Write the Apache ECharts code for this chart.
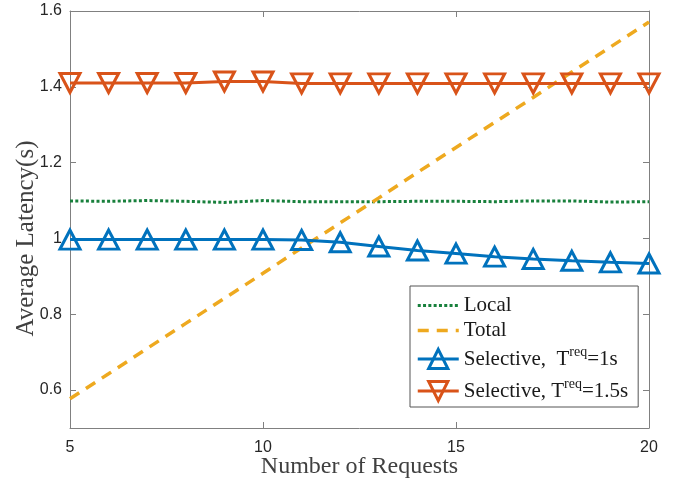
<!DOCTYPE html>
<html>
<head>
<meta charset="utf-8">
<script src="https://cdn.jsdelivr.net/npm/echarts@6/dist/echarts.min.js"></script>
<style>
html,body{margin:0;padding:0;background:#fff;}
#chart{width:677px;height:482px;}
</style>
</head>
<body>
<div id="chart"></div>
<script>
var requests = [5, 6, 7, 8, 9, 10, 11, 12, 13, 14, 15, 16, 17, 18, 19, 20];
var localLat = [1.099, 1.098, 1.100, 1.098, 1.095, 1.100, 1.097, 1.097, 1.097, 1.098, 1.098, 1.097, 1.099, 1.099, 1.096, 1.097];
var totalLat = [0.577, 0.643, 0.710, 0.776, 0.842, 0.908, 0.975, 1.041, 1.107, 1.174, 1.240, 1.306, 1.372, 1.439, 1.505, 1.571];
var sel1Lat = [0.997, 0.997, 0.997, 0.997, 0.997, 0.997, 0.996, 0.990, 0.979, 0.968, 0.960, 0.952, 0.946, 0.941, 0.937, 0.934];
var sel15Lat = [1.410, 1.410, 1.410, 1.410, 1.414, 1.414, 1.409, 1.409, 1.409, 1.409, 1.409, 1.409, 1.409, 1.409, 1.409, 1.409];
var xTicks = [5, 10, 15, 20];
var yTicks = [0.6, 0.8, 1, 1.2, 1.4, 1.6];
var seriesNames = ['Local', 'Total', 'Selective,  T^req=1s', 'Selective, T^req=1.5s'];

function pairs(arr) { return requests.map(function (x, i) { return [x, arr[i]]; }); }

var axisGrey = '#808080';
var labelColor = '#262626';
var BLUE = '#0072BD', RED = '#D95319', ORANGE = '#EEA91F', GREEN = '#18803c';

var chart = echarts.init(document.getElementById('chart'), null, {renderer: 'canvas'});
var option = {
  animation: false,
  backgroundColor: '#fff',
  grid: {left: 70, right: 28, top: 11, bottom: 54, outerBoundsMode: 'none', containLabel: false},
  xAxis: [{
    type: 'value', min: 5, max: 20, interval: 5, position: 'bottom',
    name: 'Number of Requests', nameLocation: 'middle', nameGap: 27, nameMoveOverlap: false,
    nameTextStyle: {fontFamily: 'Liberation Serif', fontSize: 24, color: '#404040'},
    axisLine: {show: true, lineStyle: {color: axisGrey, width: 1}},
    axisTick: {show: true, inside: true, length: 6, lineStyle: {color: axisGrey}},
    axisLabel: {fontFamily: 'Liberation Sans', fontSize: 16, color: labelColor, margin: 12},
    splitLine: {show: false}
  }, {
    type: 'value', min: 5, max: 20, interval: 5, position: 'top',
    axisLine: {show: true, onZero: false, lineStyle: {color: axisGrey, width: 1}},
    axisTick: {show: true, inside: true, length: 6, lineStyle: {color: axisGrey}},
    axisLabel: {show: false},
    splitLine: {show: false}
  }],
  yAxis: [{
    type: 'value', min: 0.5, max: 1.6, position: 'left',
    name: 'Average Latency(s)', nameLocation: 'middle', nameGap: 31, nameMoveOverlap: false,
    nameTextStyle: {fontFamily: 'Liberation Serif', fontSize: 25, color: '#404040', padding: [0, 38, 0, 0]},
    axisLine: {show: true, onZero: false, lineStyle: {color: axisGrey, width: 1}},
    axisTick: {show: true, inside: true, length: 6, customValues: yTicks, lineStyle: {color: axisGrey}},
    axisLabel: {fontFamily: 'Liberation Sans', fontSize: 16, color: labelColor, margin: 8, customValues: yTicks},
    splitLine: {show: false}
  }, {
    type: 'value', min: 0.5, max: 1.6, position: 'right',
    axisLine: {show: true, onZero: false, lineStyle: {color: axisGrey, width: 1}},
    axisTick: {show: true, inside: true, length: 6, customValues: yTicks, lineStyle: {color: axisGrey}},
    axisLabel: {show: false},
    splitLine: {show: false}
  }],
  legend: {
    orient: 'vertical',
    left: 410, top: 286,
    padding: [9, 10, 2, 6],
    itemGap: 4,
    itemWidth: 41, itemHeight: 24,
    backgroundColor: '#fff',
    borderColor: '#555', borderWidth: 1,
    selectedMode: false,
    data: [
      {name: seriesNames[0], itemStyle: {opacity: 0}, lineStyle: {width: 3}},
      {name: seriesNames[1], itemStyle: {opacity: 0}, lineStyle: {width: 3.5}},
      {name: seriesNames[2], itemStyle: {borderWidth: 3}, lineStyle: {width: 3}},
      {name: seriesNames[3], itemStyle: {borderWidth: 3}, lineStyle: {width: 3}}
    ],
    formatter: function (name) {
      var idx = name.indexOf('^req');
      if (idx < 0) return '{a|' + name + '}';
      return '{b|' + name.slice(0, idx) + '}{s|req}{b|' + name.slice(idx + 4) + '}';
    },
    textStyle: {
      fontFamily: 'Liberation Serif', fontSize: 21, color: '#1a1a1a',
      rich: {
        a: {fontFamily: 'Liberation Serif', fontSize: 21, color: '#1a1a1a', lineHeight: 24},
        b: {fontFamily: 'Liberation Serif', fontSize: 21, color: '#1a1a1a', lineHeight: 26},
        s: {fontFamily: 'Liberation Serif', fontSize: 14, color: '#1a1a1a', lineHeight: 12, padding: [0, 0, 14, 0]}
      }
    }
  },
  series: [{
    name: seriesNames[0], type: 'line', data: pairs(localLat),
    symbol: 'none', color: GREEN,
    lineStyle: {color: GREEN, width: 3, type: [3, 2.3]},
    z: 2
  }, {
    name: seriesNames[1], type: 'line', data: pairs(totalLat),
    symbol: 'none', color: ORANGE,
    lineStyle: {color: ORANGE, width: 3.5, type: [11, 8]},
    z: 3
  }, {
    name: seriesNames[2], type: 'line', data: pairs(sel1Lat),
    symbol: 'triangle', symbolSize: [20, 19], color: BLUE,
    itemStyle: {color: 'rgba(0,0,0,0)', borderColor: BLUE, borderWidth: 3},
    lineStyle: {color: BLUE, width: 3},
    z: 4
  }, {
    name: seriesNames[3], type: 'line', data: pairs(sel15Lat),
    symbol: 'triangle', symbolRotate: 180, symbolSize: [20, 19], color: RED,
    itemStyle: {color: 'rgba(0,0,0,0)', borderColor: RED, borderWidth: 3},
    lineStyle: {color: RED, width: 3},
    z: 5
  }]
};
chart.setOption(option);
</script>
</body>
</html>
